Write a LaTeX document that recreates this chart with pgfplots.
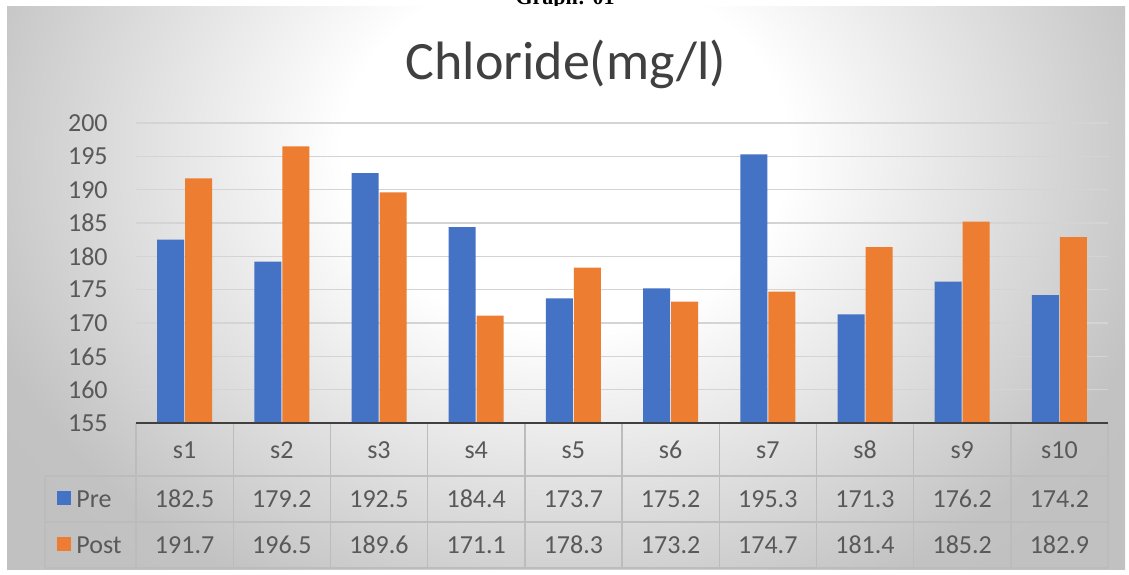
\documentclass[border=0pt]{standalone}
\usepackage{pgfplots}
\pgfplotsset{compat=1.18}
\usepackage{fontspec}
\setmainfont{Carlito}
\newfontfamily\timesfont{Liberation Serif}
\definecolor{preblue}{HTML}{4472C4}
\definecolor{postorange}{HTML}{ED7D31}
\definecolor{txt}{HTML}{595959}
\definecolor{titlec}{HTML}{404040}
\definecolor{gridc}{HTML}{D4D4D4}
\definecolor{tablec}{HTML}{BCBCBC}
\pgfdeclareradialshading{chartbg}{\pgfpoint{0bp}{0bp}}{color(0bp)=(white); color(9bp)=(white); color(25bp)=(black!24); color(50bp)=(black!26)}
\begin{document}
\begin{tikzpicture}
\useasboundingbox (0,0) rectangle (564.5pt,287pt);
\begin{scope}[yshift=287pt, x=0.5pt, y=-0.5pt]
  % top caption (cut off)
  \node[font=\timesfont\bfseries\fontsize{11pt}{12pt}\selectfont, anchor=base] at (565,5) {Graph: 01};
  % chart background
  \begin{scope}
    \clip (7,7) rectangle (1125,569);
    \shade[shading=chartbg] (-55,-350) rectangle (1185,650);
  \end{scope}
  % title
  \node[font=\fontsize{27pt}{30pt}\selectfont, text=titlec, inner sep=0pt] at (566,64) {Chloride(mg/l)};
\end{scope}

\begin{axis}[
  at={(68pt,75.5pt)}, anchor=south west,
  scale only axis, width=486pt, height=150pt,
  xmin=-0.5, xmax=9.5, ymin=155, ymax=200,
  xtick=\empty,
  ytick={155,160,...,200},
  ymajorgrids, grid style={gridc, line width=0.8pt},
  axis line style={draw=none},
  major tick length=0pt,
  /pgf/number format/assume math mode=true,
  yticklabel style={font=\fontsize{13pt}{14pt}\selectfont, text=txt, anchor=east, inner sep=0pt, xshift=-14pt},
  ybar, bar width=13.5pt,
]
\addplot[fill=preblue, draw=none, bar shift=-7pt] coordinates {
  (0,182.5) (1,179.2) (2,192.5) (3,184.4) (4,173.7)
  (5,175.2) (6,195.3) (7,171.3) (8,176.2) (9,174.2)};
\addplot[fill=postorange, draw=none, bar shift=7pt] coordinates {
  (0,191.7) (1,196.5) (2,189.6) (3,171.1) (4,178.3)
  (5,173.2) (6,174.7) (7,181.4) (8,185.2) (9,182.9)};
\end{axis}

\begin{scope}[yshift=287pt, x=0.5pt, y=-0.5pt]
  % data table grid
  \draw[tablec, line width=0.7pt] (45,476) -- (1108,476) (45,522) -- (1108,522) (45,568) -- (1108,568) (45,476) -- (45,568);
  \foreach \i in {0,...,10} {
    \draw[tablec, line width=0.7pt] ({136+97.2*\i},423) -- ({136+97.2*\i},568);
  }
  % category axis line
  \draw[titlec, line width=1pt] (136,423) -- (1108,423);
  \foreach \s [count=\i from 0] in {s1,s2,s3,s4,s5,s6,s7,s8,s9,s10} {
    \node[font=\fontsize{13pt}{14pt}\selectfont, text=txt] at ({136+97.2*(\i+0.5)},450) {\s};
  }
  \foreach \v [count=\i from 0] in {182.5,179.2,192.5,184.4,173.7,175.2,195.3,171.3,176.2,174.2} {
    \node[font=\fontsize{13pt}{14pt}\selectfont, text=txt] at ({136+97.2*(\i+0.5)},499) {\v};
  }
  \foreach \v [count=\i from 0] in {191.7,196.5,189.6,171.1,178.3,173.2,174.7,181.4,185.2,182.9} {
    \node[font=\fontsize{13pt}{14pt}\selectfont, text=txt] at ({136+97.2*(\i+0.5)},545) {\v};
  }
  % legend keys
  \fill[preblue] (57,491) rectangle (71,505);
  \fill[postorange] (57,537) rectangle (71,551);
  \node[font=\fontsize{13pt}{14pt}\selectfont, text=txt, anchor=west, inner sep=0pt] at (76,499) {Pre};
  \node[font=\fontsize{13pt}{14pt}\selectfont, text=txt, anchor=west, inner sep=0pt] at (76,545) {Post};
\end{scope}
\end{tikzpicture}
\end{document}
